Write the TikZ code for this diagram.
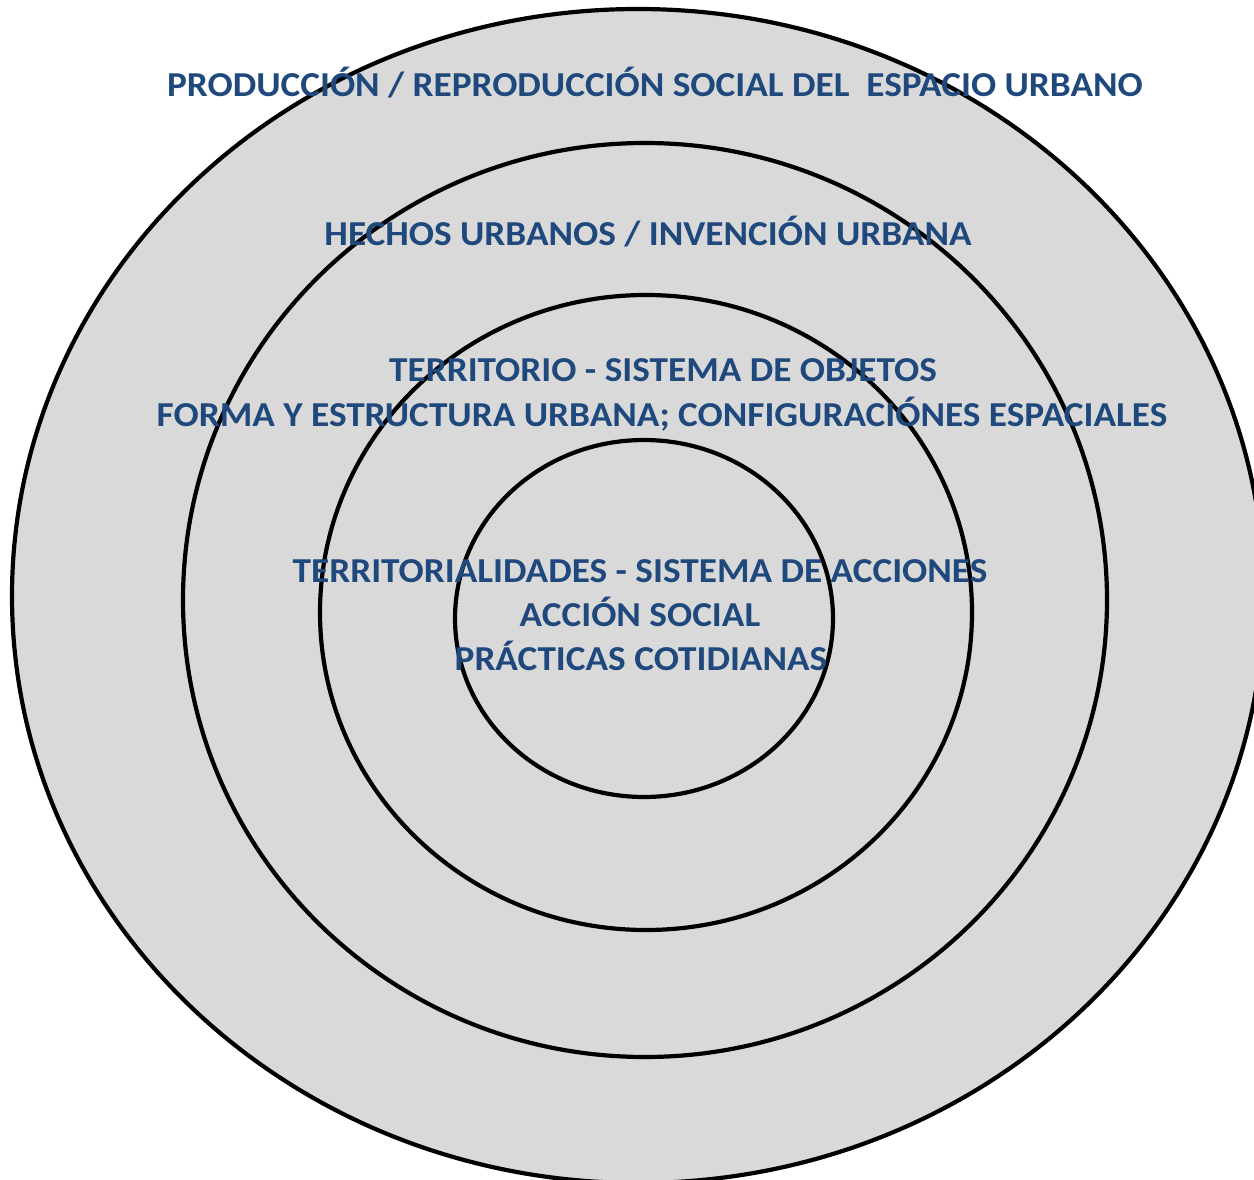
\documentclass[tikz,border=0pt]{standalone}
\usepackage{fontspec}
\setmainfont{Carlito}
\definecolor{txtblue}{HTML}{1F497D}
\definecolor{ringgray}{HTML}{D9D9D9}
\begin{document}
\begin{tikzpicture}[x=1pt,y=-1pt,
  ring/.style={draw=black,line width=4.2pt,fill=ringgray},
  lbl/.style={text=txtblue,font=\bfseries\fontsize{35}{40}\selectfont,anchor=base,inner sep=0pt,xscale=1.065}]
\useasboundingbox (0,0) rectangle (1254,1180);
\clip (0,0) rectangle (1254,1180);
% rings
\path[ring] (638,596) ellipse [x radius=626,y radius=587];
\path[ring] (645,600) ellipse [x radius=462,y radius=457];
\path[ring] (646,612.5) ellipse [x radius=326,y radius=317.5];
\path[ring] (644,618.5) ellipse [x radius=189,y radius=178.5];
% labels
\node[lbl] (l1) at (655,97) {PRODUCCIÓN / REPRODUCCIÓN SOCIAL DEL\ \ ESPACIO URBANO};
\node[lbl] (l2) at (648,245) {HECHOS URBANOS / INVENCIÓN URBANA};
\node[lbl] (l3a) at (663,381) {TERRITORIO - SISTEMA DE OBJETOS};
\node[lbl] (l3b) at (662,426) {FORMA Y ESTRUCTURA URBANA; CONFIGURACIÓNES ESPACIALES};
\node[lbl] (l4a) at (640,582) {TERRITORIALIDADES - SISTEMA DE ACCIONES};
\node[lbl] (l4b) at (640,626) {ACCIÓN SOCIAL};
\node[lbl] (l4c) at (641,670) {PRÁCTICAS COTIDIANAS};
\end{tikzpicture}
\end{document}
